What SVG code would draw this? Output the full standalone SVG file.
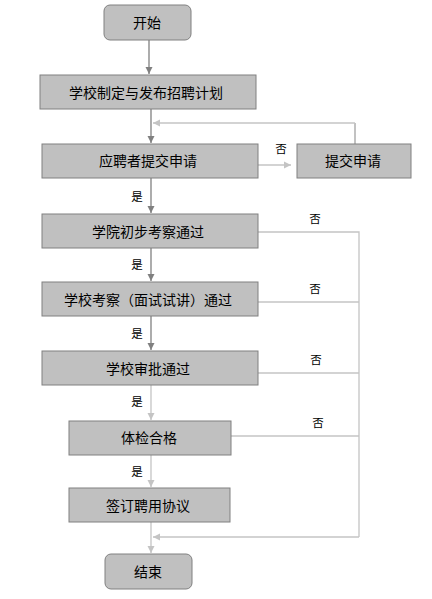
<svg xmlns="http://www.w3.org/2000/svg" width="432" height="599" viewBox="0 0 432 599">
<style>
.box{fill:#c0c0c0;stroke:#808080;stroke-width:1}
.t{font-family:"Noto Sans CJK SC","Liberation Sans",sans-serif;font-size:14px;fill:#000;text-anchor:middle;dominant-baseline:central}
.l{font-family:"Noto Sans CJK SC","Liberation Sans",sans-serif;font-size:11.5px;fill:#000;text-anchor:middle;dominant-baseline:central}
.dk{stroke:#808080;stroke-width:1.3;fill:none}
.md{stroke:#999999;stroke-width:1.2;fill:none}
.lt{stroke:#c4c4c4;stroke-width:1.3;fill:none}
</style>
<defs>
<marker id="ad" markerWidth="8" markerHeight="8" refX="7" refY="4" orient="auto" markerUnits="userSpaceOnUse"><path d="M0,0.5 L7,4 L0,7.5 Z" fill="#808080"/></marker>
<marker id="al" markerWidth="8" markerHeight="8" refX="7" refY="4" orient="auto" markerUnits="userSpaceOnUse"><path d="M0,0.5 L7,4 L0,7.5 Z" fill="#c4c4c4"/></marker>
</defs>
<rect width="432" height="599" fill="#fff"/>
<g id="connectors">
<line class="dk" x1="149" y1="40" x2="149" y2="74" marker-end="url(#ad)"/>
<line class="dk" x1="151" y1="109" x2="151" y2="143" marker-end="url(#ad)"/>
<line class="md" x1="355" y1="144" x2="355" y2="123"/>
<line class="lt" x1="355" y1="123" x2="153" y2="123" marker-end="url(#al)"/>
<line class="lt" x1="258" y1="165" x2="291" y2="165" marker-end="url(#al)"/>
<line class="dk" x1="151" y1="178" x2="151" y2="213" marker-end="url(#ad)"/>
<line class="dk" x1="151" y1="248" x2="151" y2="281" marker-end="url(#ad)"/>
<line class="dk" x1="151" y1="316" x2="151" y2="350" marker-end="url(#ad)"/>
<line class="lt" x1="151" y1="385" x2="151" y2="420" marker-end="url(#al)"/>
<line class="lt" x1="151" y1="455" x2="151" y2="487" marker-end="url(#al)"/>
<line class="lt" x1="151" y1="522" x2="151" y2="553" marker-end="url(#al)"/>
<polyline class="lt" points="258,232 359,232 359,537"/>
<line class="lt" x1="258" y1="302" x2="359" y2="302"/>
<line class="lt" x1="258" y1="373" x2="359" y2="373"/>
<line class="lt" x1="231" y1="436" x2="359" y2="436"/>
<line class="lt" x1="359" y1="537" x2="153" y2="537" marker-end="url(#al)"/>
<text class="l" x="281" y="148">否</text>
<text class="l" x="137" y="196">是</text>
<text class="l" x="315" y="218">否</text>
<text class="l" x="137" y="264">是</text>
<text class="l" x="315" y="288">否</text>
<text class="l" x="137" y="333">是</text>
<text class="l" x="316" y="359">否</text>
<text class="l" x="137" y="401">是</text>
<text class="l" x="318" y="422">否</text>
<text class="l" x="137" y="471">是</text>
</g>
<g id="start"><rect class="box" x="104" y="5" width="87" height="35" rx="6"/><text class="t" x="147" y="22">开始</text></g>
<g id="plan"><rect class="box" x="40" y="75" width="216" height="34"/><text class="t" x="146" y="92">学校制定与发布招聘计划</text></g>
<g id="apply"><rect class="box" x="42" y="144" width="216" height="34"/><text class="t" x="148" y="160">应聘者提交申请</text></g>
<g id="submit"><rect class="box" x="297" y="144" width="114" height="34"/><text class="t" x="353" y="160">提交申请</text></g>
<g id="college"><rect class="box" x="42" y="214" width="216" height="34"/><text class="t" x="148" y="231">学院初步考察通过</text></g>
<g id="interview"><rect class="box" x="42" y="282" width="216" height="34"/><text class="t" x="148" y="299">学校考察（面试试讲）通过</text></g>
<g id="approve"><rect class="box" x="42" y="351" width="216" height="34"/><text class="t" x="148" y="368">学校审批通过</text></g>
<g id="medical"><rect class="box" x="69" y="421" width="162" height="34"/><text class="t" x="149" y="437">体检合格</text></g>
<g id="sign"><rect class="box" x="69" y="488" width="161" height="34"/><text class="t" x="148" y="505">签订聘用协议</text></g>
<g id="end"><rect class="box" x="105" y="554" width="87" height="35" rx="6"/><text class="t" x="148" y="571">结束</text></g>
</svg>
